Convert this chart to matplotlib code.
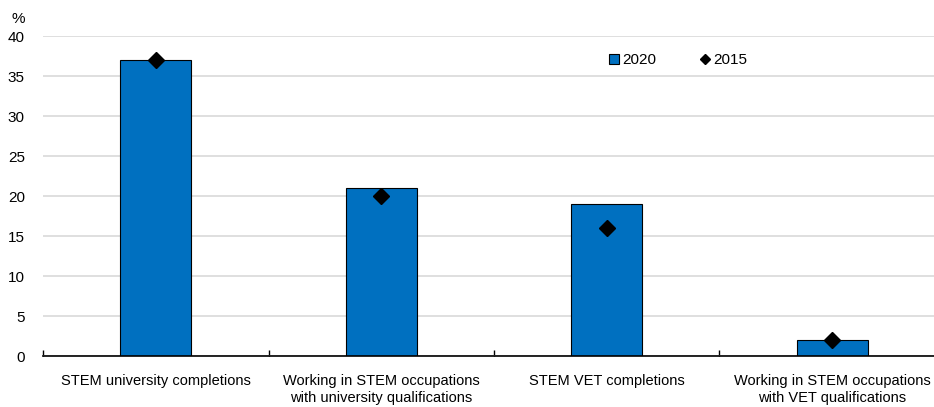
import matplotlib
matplotlib.use("Agg")
import matplotlib.pyplot as plt
from matplotlib.lines import Line2D
from matplotlib.patches import Patch
import numpy as np

categories = [
    "STEM university completions",
    "Working in STEM occupations\nwith university qualifications",
    "STEM VET completions",
    "Working in STEM occupations\nwith VET qualifications",
]
share_2020 = [37, 21, 19, 2]
share_2015 = [37, 20, 16, 2]

plt.rcParams['font.family'] = ['Liberation Sans', 'DejaVu Sans']
plt.rcParams['font.size'] = 10.5

W, H = 934, 407
fig = plt.figure(figsize=(W / 100, H / 100), dpi=100)
ax = fig.add_axes([43 / W, (H - 356) / H, (945 - 43) / W, 320 / H])

x = np.arange(len(categories))
ax.bar(x, share_2020, width=0.315, color='#0070c0', edgecolor='black',
       linewidth=0.8, zorder=3)
ax.plot(x, share_2015, linestyle='none', marker='D', markersize=8.5,
        color='black', zorder=4)

ax.set_xlim(-0.5, len(categories) - 0.5)
ax.set_ylim(0, 40)
ax.set_yticks(range(0, 41, 5))
ax.yaxis.grid(True, color='#d9d9d9', linewidth=1.2, zorder=0)
ax.set_axisbelow(True)

ax.set_xticks(x)
ax.set_xticklabels(categories, linespacing=1.3)
ax.set_xticks(np.arange(-0.5, len(categories), 1), minor=True)
ax.tick_params(axis='x', which='major', length=0, pad=13, colors='black')
ax.tick_params(axis='x', which='minor', direction='in', length=4, width=1)
ax.tick_params(axis='y', length=0, pad=13)
for lbl in ax.get_yticklabels():
    lbl.set_fontsize(11)

for side in ['left', 'right', 'top']:
    ax.spines[side].set_visible(False)
ax.spines['bottom'].set_linewidth(1.2)
ax.spines['bottom'].set_zorder(5)

fig.text(11 / W, (H - 19) / H, "%", fontsize=11, va='center', ha='left')

handles = [
    Patch(facecolor='#0070c0', edgecolor='black', linewidth=0.8, label='2020'),
    Line2D([], [], linestyle='none', marker='D', markersize=5.5,
           color='black', label='2015'),
]
ax.legend(handles=handles, ncol=2, frameon=False, loc='center left',
          bbox_to_anchor=((609 - 43) / (945 - 43), (356 - 60) / 320),
          handlelength=0.65, handleheight=0.65, handletextpad=0.2,
          columnspacing=2.9, fontsize=11, borderaxespad=0, borderpad=0)

fig.savefig("out.png", dpi=100)
